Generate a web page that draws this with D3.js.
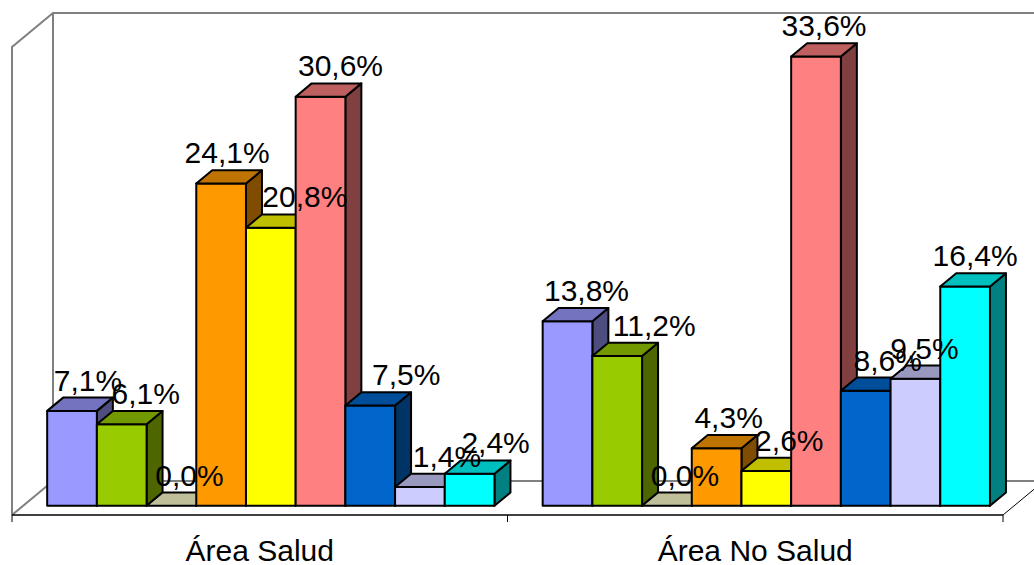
<!DOCTYPE html>
<html>
<head>
<meta charset="utf-8">
<script src="https://cdn.jsdelivr.net/npm/d3@7/dist/d3.min.js"></script>
<style>
  body { margin: 0; background: #fff; }
  svg { display: block; font-family: Arial, 'Liberation Sans', sans-serif; }
</style>
</head>
<body>
<div id="chart"></div>
<script>
const categories = ['Área Salud', 'Área No Salud'];
const saludValues = [7.1, 6.1, 0.0, 24.1, 20.8, 30.6, 7.5, 1.4, 2.4];
const noSaludValues = [13.8, 11.2, 0.0, 4.3, 2.6, 33.6, 8.6, 9.5, 16.4];
const seriesColors = ['#9999FF', '#99CC00', '#FFFFCC', '#FF9900', '#FFFF00',
  '#FF8080', '#0066CC', '#CCCCFF', '#00FFFF'];
const yMax = 35;

const width = 1034;
const height = 565;

// front floor edge and the 3D depth vector
const floor = { left: 12, right: 1003, front: 515 };
const depth = { dx: 41, dy: -34 };
const barFront = 0.27;
const barBack = 0.66;

// sideways shift of each value label from its bar's front centre (layout only)
const labelShift = [
  [16, 24, 18, 6, 34, 20, 36, 27, 26],
  [19, 37, 18, 12, 23, 8, 22, 9, 10],
];

const fmt = (v) => `${v.toFixed(1).replace('.', ',')}%`;

const shade = (c, k) => {
  const rgb = d3.rgb(c);
  return d3.rgb(rgb.r * k, rgb.g * k, rgb.b * k).formatHex();
};

const svg = d3.select('#chart')
  .append('svg')
  .attr('width', width)
  .attr('height', height);

const x = d3.scaleBand()
  .domain(categories)
  .range([floor.left, floor.right]);

const xs = d3.scaleBand()
  .domain(d3.range(seriesColors.length))
  .range([0, x.bandwidth()])
  .paddingOuter(0.485);

const y = d3.scaleLinear()
  .domain([0, yMax])
  .range([floor.front, floor.front - 468]);

// walls
const walls = svg.append('g')
  .attr('fill', 'none')
  .attr('stroke', '#808080')
  .attr('stroke-width', 2);

const backX0 = floor.left + depth.dx;
const backX1 = floor.right + depth.dx;
const backTop = y(yMax) + depth.dy;
const backBottom = y(0) + depth.dy;

walls.append('path')
  .attr('d', `M${floor.left},${y(0)} L${floor.left},${y(yMax)} L${backX0},${backTop} L${backX1},${backTop}`);
walls.append('path')
  .attr('d', `M${backX0},${backTop} L${backX0},${backBottom} L${backX1},${backBottom}`);
walls.append('path')
  .attr('d', `M${floor.left},${y(0)} L${backX0},${backBottom}`);

svg.append('path')
  .attr('d', `M${floor.right},${y(0)} L${backX1},${backBottom}`)
  .attr('stroke', '#000')
  .attr('stroke-width', 1)
  .attr('fill', 'none');

// bars
const data = [];
categories.forEach((cat, ci) => {
  const vals = ci === 0 ? saludValues : noSaludValues;
  vals.forEach((v, si) => data.push({ cat, ci, si, v }));
});

const bdx = (barBack - barFront) * depth.dx;
const bdy = (barBack - barFront) * depth.dy;
const w = xs.bandwidth();

const bars = svg.append('g')
  .selectAll('g')
  .data(data)
  .enter()
  .append('g')
  .attr('stroke', '#000')
  .attr('stroke-width', 2)
  .attr('stroke-linejoin', 'round');

bars.each(function (d) {
  const g = d3.select(this);
  const x0 = x(d.cat) + xs(d.si) + barFront * depth.dx;
  const base = y(0) + barFront * depth.dy;
  const top = y(d.v) + barFront * depth.dy;
  const color = seriesColors[d.si];

  g.append('path')
    .attr('fill', shade(color, 0.5))
    .attr('d', `M${x0 + w},${top} L${x0 + w + bdx},${top + bdy} L${x0 + w + bdx},${base + bdy} L${x0 + w},${base} Z`);
  if (d.v > 0) {
    g.append('rect')
      .attr('fill', color)
      .attr('x', x0)
      .attr('y', top)
      .attr('width', w)
      .attr('height', base - top);
  }
  g.append('path')
    .attr('fill', shade(color, 0.75))
    .attr('d', `M${x0},${top} L${x0 + bdx},${top + bdy} L${x0 + w + bdx},${top + bdy} L${x0 + w},${top} Z`);
});

// value labels
svg.append('g')
  .selectAll('text')
  .data(data)
  .enter()
  .append('text')
  .attr('x', (d) => x(d.cat) + xs(d.si) + barFront * depth.dx + w / 2 + labelShift[d.ci][d.si])
  .attr('y', (d) => y(d.v) + barFront * depth.dy + bdy - 7)
  .attr('text-anchor', 'middle')
  .attr('font-size', 30)
  .attr('fill', '#000')
  .text((d) => fmt(d.v));

// category axis
svg.append('line')
  .attr('x1', floor.left)
  .attr('x2', floor.right)
  .attr('y1', y(0))
  .attr('y2', y(0))
  .attr('stroke', '#000')
  .attr('stroke-width', 1.5);

const tickXs = categories.map((c) => x(c)).concat([floor.right]);
svg.append('g')
  .selectAll('line')
  .data(tickXs)
  .enter()
  .append('line')
  .attr('x1', (d) => d)
  .attr('x2', (d) => d)
  .attr('y1', y(0))
  .attr('y2', y(0) + 7)
  .attr('stroke', '#000')
  .attr('stroke-width', 1);

svg.append('g')
  .selectAll('text')
  .data(categories)
  .enter()
  .append('text')
  .attr('x', (d) => x(d) + x.bandwidth() / 2)
  .attr('y', 561)
  .attr('text-anchor', 'middle')
  .attr('font-size', 30)
  .attr('fill', '#000')
  .text((d) => d);
</script>
</body>
</html>
